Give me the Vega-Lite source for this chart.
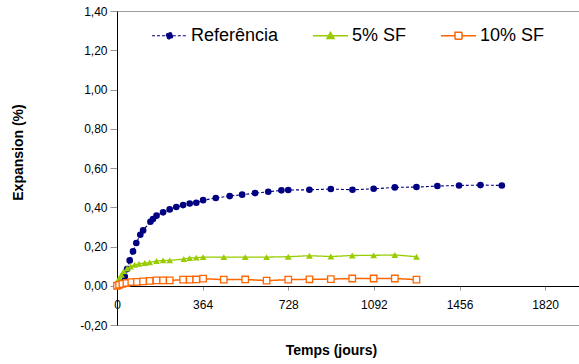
{
  "$schema": "https://vega.github.io/schema/vega-lite/v6.json",
  "width": 462,
  "height": 314,
  "autosize": "none",
  "padding": {"left": 117, "top": 11, "right": 0, "bottom": 39},
  "background": "white",
  "config": {
    "view": {"stroke": "#a0a0a0", "strokeWidth": 1},
    "font": "Liberation Sans",
    "axis": {"grid": false, "labelFont": "Liberation Sans", "titleFont": "Liberation Sans", "labelColor": "black", "titleColor": "black"}
  },
  "data": {
    "values": [
      {"serie": "Referência", "t": 0, "e": 0},
      {"serie": "Referência", "t": 19, "e": 0.017},
      {"serie": "Referência", "t": 33, "e": 0.047},
      {"serie": "Referência", "t": 43, "e": 0.085},
      {"serie": "Referência", "t": 54, "e": 0.129},
      {"serie": "Referência", "t": 68, "e": 0.175},
      {"serie": "Referência", "t": 82, "e": 0.218},
      {"serie": "Referência", "t": 99, "e": 0.26},
      {"serie": "Referência", "t": 111, "e": 0.282},
      {"serie": "Referência", "t": 142, "e": 0.326},
      {"serie": "Referência", "t": 153, "e": 0.34},
      {"serie": "Referência", "t": 168, "e": 0.357},
      {"serie": "Referência", "t": 196, "e": 0.374},
      {"serie": "Referência", "t": 224, "e": 0.389},
      {"serie": "Referência", "t": 252, "e": 0.401},
      {"serie": "Referência", "t": 281, "e": 0.411},
      {"serie": "Referência", "t": 309, "e": 0.419},
      {"serie": "Referência", "t": 337, "e": 0.423},
      {"serie": "Referência", "t": 366, "e": 0.436},
      {"serie": "Referência", "t": 420, "e": 0.447},
      {"serie": "Referência", "t": 479, "e": 0.457},
      {"serie": "Referência", "t": 532, "e": 0.464},
      {"serie": "Referência", "t": 587, "e": 0.472},
      {"serie": "Referência", "t": 643, "e": 0.479},
      {"serie": "Referência", "t": 699, "e": 0.486},
      {"serie": "Referência", "t": 728, "e": 0.488},
      {"serie": "Referência", "t": 818, "e": 0.489},
      {"serie": "Referência", "t": 909, "e": 0.493},
      {"serie": "Referência", "t": 1001, "e": 0.489},
      {"serie": "Referência", "t": 1091, "e": 0.494},
      {"serie": "Referência", "t": 1181, "e": 0.501},
      {"serie": "Referência", "t": 1273, "e": 0.503},
      {"serie": "Referência", "t": 1362, "e": 0.508},
      {"serie": "Referência", "t": 1454, "e": 0.511},
      {"serie": "Referência", "t": 1545, "e": 0.513},
      {"serie": "Referência", "t": 1636, "e": 0.511},
      {"serie": "5% SF", "t": 0, "e": 0.005},
      {"serie": "5% SF", "t": 9, "e": 0.039},
      {"serie": "5% SF", "t": 19, "e": 0.056},
      {"serie": "5% SF", "t": 28, "e": 0.073},
      {"serie": "5% SF", "t": 43, "e": 0.088},
      {"serie": "5% SF", "t": 57, "e": 0.098},
      {"serie": "5% SF", "t": 75, "e": 0.107},
      {"serie": "5% SF", "t": 94, "e": 0.112},
      {"serie": "5% SF", "t": 118, "e": 0.116},
      {"serie": "5% SF", "t": 139, "e": 0.119},
      {"serie": "5% SF", "t": 168, "e": 0.126},
      {"serie": "5% SF", "t": 196, "e": 0.129},
      {"serie": "5% SF", "t": 224, "e": 0.129},
      {"serie": "5% SF", "t": 284, "e": 0.136},
      {"serie": "5% SF", "t": 309, "e": 0.141},
      {"serie": "5% SF", "t": 337, "e": 0.143},
      {"serie": "5% SF", "t": 366, "e": 0.146},
      {"serie": "5% SF", "t": 454, "e": 0.146},
      {"serie": "5% SF", "t": 545, "e": 0.146},
      {"serie": "5% SF", "t": 636, "e": 0.146},
      {"serie": "5% SF", "t": 728, "e": 0.148},
      {"serie": "5% SF", "t": 818, "e": 0.153},
      {"serie": "5% SF", "t": 909, "e": 0.149},
      {"serie": "5% SF", "t": 1000, "e": 0.154},
      {"serie": "5% SF", "t": 1091, "e": 0.155},
      {"serie": "5% SF", "t": 1181, "e": 0.157},
      {"serie": "5% SF", "t": 1273, "e": 0.148},
      {"serie": "10% SF", "t": 0, "e": 0},
      {"serie": "10% SF", "t": 9, "e": 0.005},
      {"serie": "10% SF", "t": 23, "e": 0.01},
      {"serie": "10% SF", "t": 40, "e": 0.014},
      {"serie": "10% SF", "t": 61, "e": 0.019},
      {"serie": "10% SF", "t": 85, "e": 0.02},
      {"serie": "10% SF", "t": 111, "e": 0.022},
      {"serie": "10% SF", "t": 139, "e": 0.025},
      {"serie": "10% SF", "t": 168, "e": 0.027},
      {"serie": "10% SF", "t": 196, "e": 0.027},
      {"serie": "10% SF", "t": 224, "e": 0.027},
      {"serie": "10% SF", "t": 281, "e": 0.031},
      {"serie": "10% SF", "t": 309, "e": 0.031},
      {"serie": "10% SF", "t": 337, "e": 0.032},
      {"serie": "10% SF", "t": 366, "e": 0.036},
      {"serie": "10% SF", "t": 454, "e": 0.031},
      {"serie": "10% SF", "t": 545, "e": 0.032},
      {"serie": "10% SF", "t": 636, "e": 0.026},
      {"serie": "10% SF", "t": 728, "e": 0.031},
      {"serie": "10% SF", "t": 818, "e": 0.033},
      {"serie": "10% SF", "t": 909, "e": 0.034},
      {"serie": "10% SF", "t": 1000, "e": 0.037},
      {"serie": "10% SF", "t": 1091, "e": 0.037},
      {"serie": "10% SF", "t": 1181, "e": 0.037},
      {"serie": "10% SF", "t": 1273, "e": 0.031}
    ]
  },
  "encoding": {
    "x": {
      "field": "t", "type": "quantitative",
      "scale": {"domain": [0, 1964], "nice": false, "zero": true},
      "axis": {
        "title": "Temps (jours)",
        "values": [0, 364, 728, 1092, 1456, 1820],
        "format": "d",
        "offset": -39,
        "domainColor": "black", "domainWidth": 1,
        "tickColor": "#999999", "tickSize": 4,
        "labelFontSize": 12, "labelPadding": 9, "labelFlush": false,
        "titleFontSize": 14, "titleFontWeight": "bold",
        "titleX": 214, "titleY": 68, "titleBaseline": "alphabetic", "titleAlign": "center"
      }
    },
    "y": {
      "field": "e", "type": "quantitative",
      "scale": {"domain": [-0.2, 1.4], "nice": false, "zero": false},
      "axis": {
        "title": "Expansion (%)",
        "values": [-0.2, 0, 0.2, 0.4, 0.6, 0.8, 1.0, 1.2, 1.4],
        "labelExpr": "replace(replace(format(datum.value, '.2f'), '.', ','), '\u2212', '-')",
        "domainColor": "black", "domainWidth": 1,
        "tickColor": "#999999", "tickSize": 7,
        "labelFontSize": 12, "labelPadding": 3, "labelFlush": false,
        "titleFontSize": 14, "titleFontWeight": "bold",
        "titleX": -99, "titleY": 141, "titleBaseline": "middle", "titleAlign": "center", "titleAngle": -90
      }
    }
  },
  "layer": [
    {
      "mark": {"type": "line"},
      "encoding": {
        "stroke": {
          "field": "serie", "type": "nominal",
          "scale": {"domain": ["Referência", "5% SF", "10% SF"], "range": ["#000080", "#99CC00", "#FF6600"]},
          "legend": {
            "title": null,
            "orient": "none",
            "legendX": 34,
            "legendY": 6,
            "direction": "horizontal",
            "padding": 0,
            "columnPadding": 31,
            "labelOffset": 3,
            "labelFontSize": 18,
            "labelFont": "Liberation Sans",
            "labelColor": "black",
            "labelLimit": 300,
            "symbolSize": 1225,
            "symbolStrokeWidth": 1.4,
            "encode": {
              "symbols": {
                "update": {
                  "shape": {"signal": "datum.value === 'Referência' ? 'M-1,0H-0.19M0.19,0H1M-0.19,0A0.19,0.19,0,1,1,0.19,0A0.19,0.19,0,1,1,-0.19,0Z' : datum.value === '5% SF' ? 'M-1,0H1M0,-0.2L0.21,0.16L-0.21,0.16Z' : 'M-1,0H-0.2M0.2,0H1M-0.2,-0.2H0.2V0.2H-0.2Z'"},
                  "fill": {"signal": "datum.value === 'Referência' ? '#000080' : datum.value === '5% SF' ? '#99CC00' : '#ffffff'"},
                  "size": {"value": 1225},
                  "opacity": {"value": 1}
                }
              }
            }
          }
        },
        "strokeDash": {
          "field": "serie", "type": "nominal",
          "scale": {"domain": ["Referência", "5% SF", "10% SF"], "range": [[3, 2], [1, 0], [1, 0]]}
        },
        "strokeWidth": {
          "field": "serie", "type": "nominal",
          "scale": {"domain": ["Referência", "5% SF", "10% SF"], "range": [1.1, 1.5, 1.5]}
        }
      }
    },
    {
      "transform": [{"filter": "datum.serie === 'Referência'"}],
      "mark": {"type": "point", "shape": "circle", "filled": true, "color": "#000080", "size": 44, "opacity": 1}
    },
    {
      "transform": [{"filter": "datum.serie === '5% SF'"}],
      "mark": {"type": "point", "shape": "triangle-up", "filled": true, "color": "#99CC00", "size": 46, "opacity": 1}
    },
    {
      "transform": [{"filter": "datum.serie === '10% SF'"}],
      "mark": {"type": "point", "shape": "square", "fill": "#ffffff", "stroke": "#FF6600", "strokeWidth": 1.3, "size": 42, "opacity": 1}
    }
  ]
}
